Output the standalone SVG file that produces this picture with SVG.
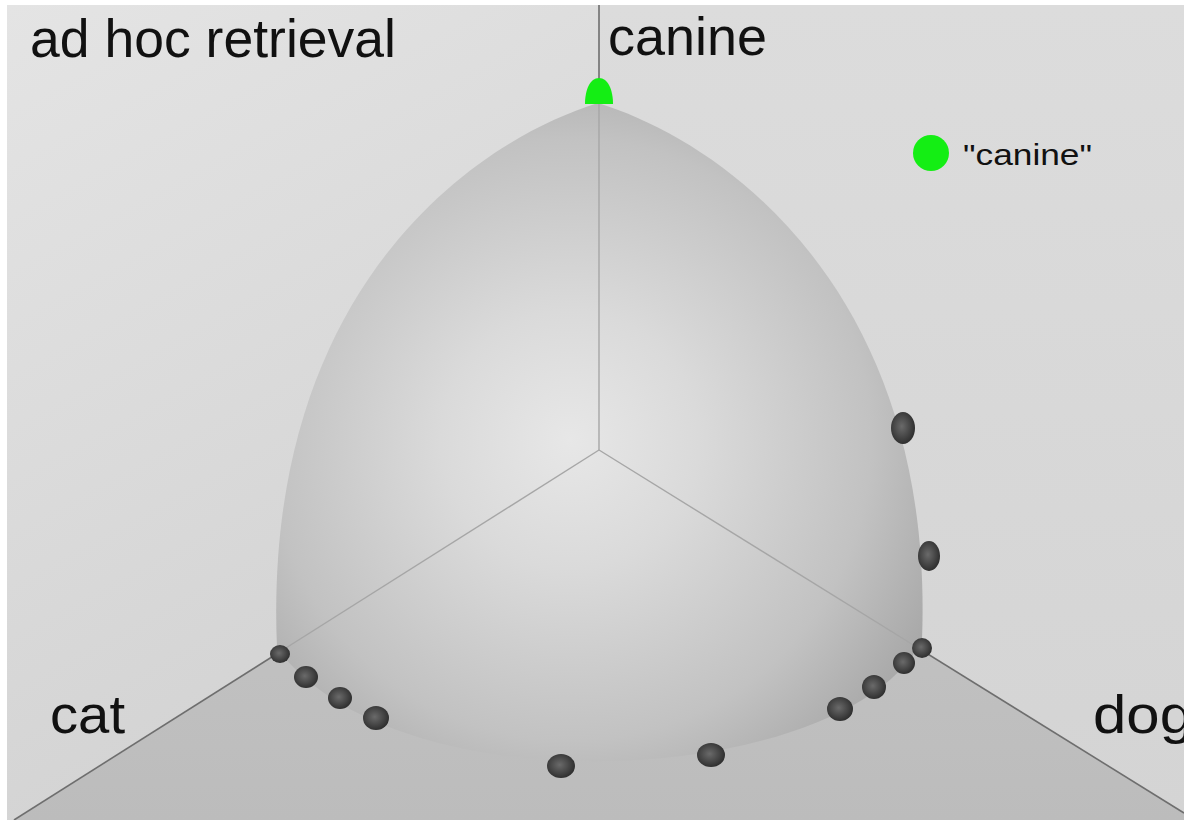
<svg xmlns="http://www.w3.org/2000/svg" width="1184" height="820" viewBox="0 0 1184 820">
<defs>
  <linearGradient id="leftWall" x1="0" y1="0" x2="0.4" y2="1">
    <stop offset="0" stop-color="#e4e4e4"/>
    <stop offset="1" stop-color="#d2d2d2"/>
  </linearGradient>
  <linearGradient id="rightWall" x1="0" y1="0" x2="0" y2="1">
    <stop offset="0" stop-color="#dcdcdc"/>
    <stop offset="1" stop-color="#d4d4d4"/>
  </linearGradient>
  <linearGradient id="floor" x1="0" y1="0" x2="0" y2="1">
    <stop offset="0" stop-color="#c6c6c6"/>
    <stop offset="1" stop-color="#bcbcbc"/>
  </linearGradient>
  <radialGradient id="sphere" gradientUnits="userSpaceOnUse" cx="570" cy="440" r="430">
    <stop offset="0" stop-color="#e7e7e7"/>
    <stop offset="0.3" stop-color="#dadada"/>
    <stop offset="0.7" stop-color="#c2c2c2"/>
    <stop offset="1" stop-color="#a2a2a2"/>
  </radialGradient>
  <radialGradient id="blob" cx="0.45" cy="0.45" r="0.6">
    <stop offset="0" stop-color="#6a6a6a"/>
    <stop offset="0.6" stop-color="#444444"/>
    <stop offset="1" stop-color="#2a2a2a"/>
  </radialGradient>
  <clipPath id="sphereClip">
    <path d="M598,103 C733,145 935,300 922,640 C850,785 400,815 277,648 C262,300 463,145 598,103 Z"/>
  </clipPath>
  <style>
    .lbl { font-family: "Liberation Sans", Arial, sans-serif; fill: #111; }
    .axis { stroke: #6e6e6e; stroke-width: 1.6; fill: none; }
    .axisIn { stroke: #a6a6a6; stroke-width: 1.4; fill: none; }
    .dot { fill: url(#blob); }
  </style>
</defs>

<rect x="0" y="0" width="1184" height="820" fill="#ffffff"/>
<g id="background">
  <polygon points="7,5 599,5 599,450 14,820 7,820" fill="url(#leftWall)"/>
  <polygon points="599,5 1184,5 1184,813 599,450" fill="url(#rightWall)"/>
  <polygon points="599,450 14,820 1184,820 1184,813" fill="url(#floor)"/>
</g>

<g id="axes">
  <line class="axis" x1="599" y1="5" x2="599" y2="450"/>
  <line class="axis" x1="599" y1="450" x2="14" y2="820"/>
  <line class="axis" x1="599" y1="450" x2="1184" y2="813"/>
</g>

<g id="octant">
  <path d="M598,103 C733,145 935,300 922,640 C850,785 400,815 277,648 C262,300 463,145 598,103 Z" fill="url(#sphere)"/>
  <g clip-path="url(#sphereClip)">
    <line class="axisIn" x1="599" y1="5" x2="599" y2="450"/>
    <line class="axisIn" x1="599" y1="450" x2="14" y2="820"/>
    <line class="axisIn" x1="599" y1="450" x2="1184" y2="813"/>
  </g>
</g>

<g id="canine-point">
  <path d="M585,104 C585,90 590,78 599,78 C608,78 613,90 613,104 Z" fill="#14ee14"/>
</g>

<g id="points">
  <ellipse class="dot" cx="280" cy="654" rx="10" ry="9"/>
  <ellipse class="dot" cx="306" cy="677" rx="12" ry="11"/>
  <ellipse class="dot" cx="340" cy="698" rx="12" ry="11"/>
  <ellipse class="dot" cx="376" cy="718" rx="13" ry="12"/>
  <ellipse class="dot" cx="561" cy="766" rx="14" ry="12"/>
  <ellipse class="dot" cx="711" cy="755" rx="14" ry="12"/>
  <ellipse class="dot" cx="840" cy="709" rx="13" ry="12"/>
  <ellipse class="dot" cx="874" cy="687" rx="12" ry="12"/>
  <ellipse class="dot" cx="904" cy="663" rx="11" ry="11"/>
  <ellipse class="dot" cx="922" cy="648" rx="10" ry="10"/>
  <ellipse class="dot" cx="903" cy="428" rx="12" ry="16"/>
  <ellipse class="dot" cx="929" cy="556" rx="11" ry="15"/>
</g>

<g id="legend">
  <circle cx="931" cy="153" r="18" fill="#14ee14"/>
  <text class="lbl" x="963" y="165" font-size="29" textLength="129" lengthAdjust="spacingAndGlyphs">"canine"</text>
</g>

<g id="labels">
  <text class="lbl" x="30" y="57" font-size="53" textLength="366" lengthAdjust="spacingAndGlyphs">ad hoc retrieval</text>
  <text class="lbl" x="608" y="55" font-size="53" textLength="159" lengthAdjust="spacingAndGlyphs">canine</text>
  <text class="lbl" x="50" y="733" font-size="53" textLength="75" lengthAdjust="spacingAndGlyphs">cat</text>
  <text class="lbl" x="1093" y="733" font-size="53" textLength="100" lengthAdjust="spacingAndGlyphs">dog</text>
</g>
</svg>
